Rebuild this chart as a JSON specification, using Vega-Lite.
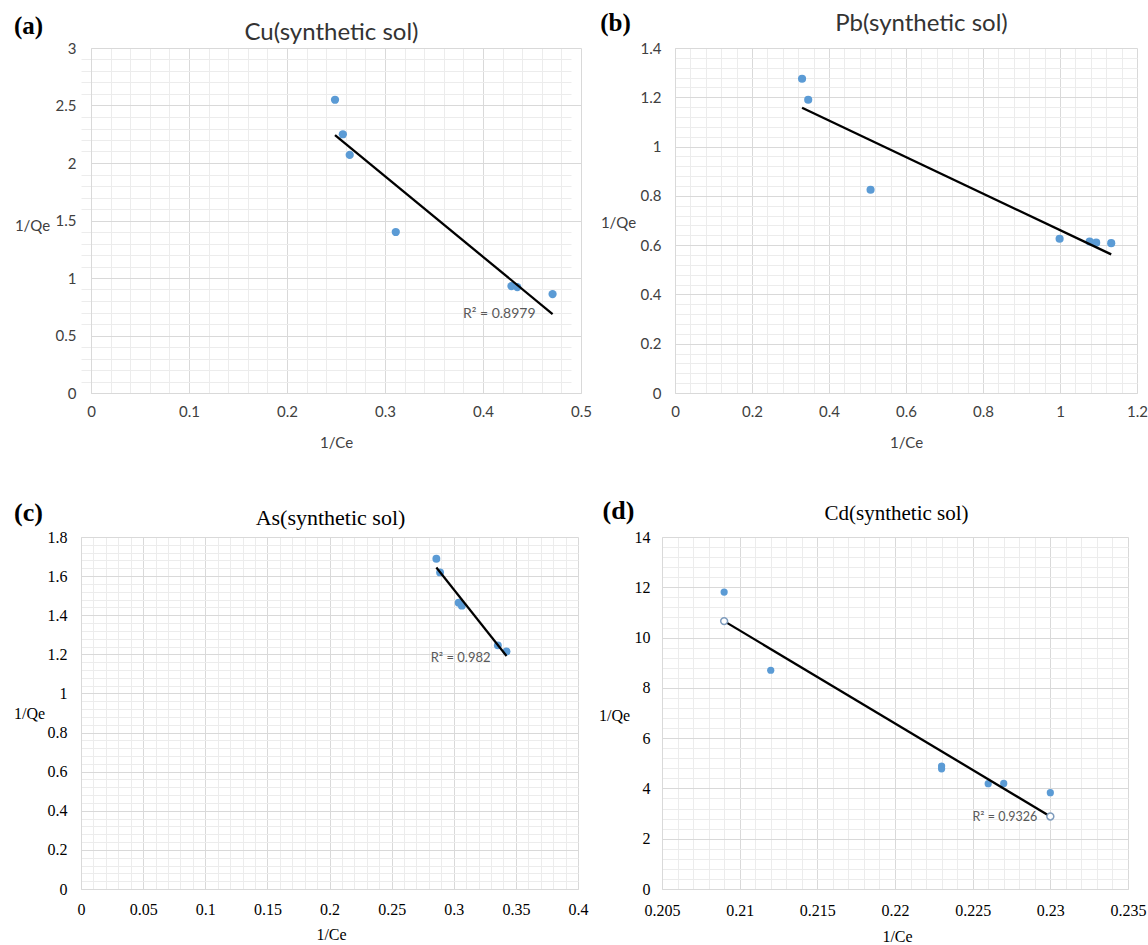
{
  "$schema": "https://vega.github.io/schema/vega-lite/v6.json",
  "background": "white",
  "padding": {"left": 13, "top": 10, "right": 0, "bottom": 0},
  "autosize": {"type": "pad"},
  "spacing": 47,
  "config": {
    "view": {"stroke": null},
    "axis": {"ticks": false, "tickSize": 0, "labelFlush": false, "labelOverlap": false, "titleAngle": 0, "titleAlign": "center", "titleBaseline": "middle"}
  },
  "datasets": {
    "cu": [
      {"invCe": 0.249, "invQe": 2.55},
      {"invCe": 0.257, "invQe": 2.25},
      {"invCe": 0.264, "invQe": 2.07},
      {"invCe": 0.311, "invQe": 1.4},
      {"invCe": 0.429, "invQe": 0.93},
      {"invCe": 0.435, "invQe": 0.92},
      {"invCe": 0.471, "invQe": 0.86}
    ],
    "pb": [
      {"invCe": 0.33, "invQe": 1.275},
      {"invCe": 0.346, "invQe": 1.19},
      {"invCe": 0.508, "invQe": 0.825},
      {"invCe": 0.999, "invQe": 0.626},
      {"invCe": 1.077, "invQe": 0.615},
      {"invCe": 1.094, "invQe": 0.61},
      {"invCe": 1.133, "invQe": 0.608}
    ],
    "as": [
      {"invCe": 0.286, "invQe": 1.689},
      {"invCe": 0.289, "invQe": 1.619},
      {"invCe": 0.304, "invQe": 1.464},
      {"invCe": 0.3065, "invQe": 1.449},
      {"invCe": 0.3355, "invQe": 1.246},
      {"invCe": 0.3425, "invQe": 1.215}
    ],
    "cd": [
      {"invCe": 0.209, "invQe": 11.81},
      {"invCe": 0.212, "invQe": 8.7},
      {"invCe": 0.223, "invQe": 4.89},
      {"invCe": 0.223, "invQe": 4.78},
      {"invCe": 0.226, "invQe": 4.19},
      {"invCe": 0.227, "invQe": 4.2},
      {"invCe": 0.23, "invQe": 3.83}
    ]
  },
  "vconcat": [
    {
      "spacing": 7,
      "hconcat": [
        {
          "width": 500, "height": 345,
          "data": {"name": "cu"},
          "resolve": {"axis": {"x": "independent", "y": "independent"}},
          "layer": [
            {
              "mark": {"type": "circle", "color": "#5B9BD5", "opacity": 1, "size": 68},
              "encoding": {
                "x": {"field": "invCe", "type": "quantitative", "scale": {"domain": [0, 0.5], "range": [10, 500], "nice": false, "zero": false},
                  "axis": {"orient": "top", "values": [0.02,0.04,0.06,0.08,0.12,0.14,0.16,0.18,0.22,0.24,0.26,0.28,0.32,0.34,0.36,0.38,0.42,0.44,0.46,0.48],
                    "grid": true, "gridColor": "#ececec", "labels": false, "domain": false,
                    "title": "Cu(synthetic sol)", "titleX": 250, "titleY": -16, "titleFont": "Lato", "titleFontSize": 24, "titleFontWeight": "normal", "titleColor": "#333333"}},
                "y": {"field": "invQe", "type": "quantitative", "scale": {"domain": [0, 3], "nice": false, "zero": false},
                  "axis": {"orient": "right", "values": [0.1,0.2,0.3,0.4,0.6,0.7,0.8,0.9,1.1,1.2,1.3,1.4,1.6,1.7,1.8,1.9,2.1,2.2,2.3,2.4,2.6,2.7,2.8,2.9],
                    "grid": true, "gridColor": "#ececec", "labels": false, "domain": false,
                    "title": "(a)", "titleX": -553, "titleY": -23, "titleFont": "Liberation Serif", "titleFontSize": 25, "titleFontWeight": "bold", "titleColor": "black"}}
              }
            },
            {
              "transform": [{"regression": "invQe", "on": "invCe"}],
              "mark": {"type": "line", "color": "black", "strokeWidth": 2.3},
              "encoding": {
                "x": {"field": "invCe", "type": "quantitative", "scale": {"domain": [0, 0.5], "range": [10, 500], "nice": false, "zero": false},
                  "axis": {"orient": "bottom", "values": [0,0.1,0.2,0.3,0.4,0.5], "format": "~g",
                    "grid": true, "gridColor": "#d9d9d9", "domainColor": "#d9d9d9",
                    "labelFont": "Lato", "labelFontSize": 15, "labelColor": "#404040", "labelPadding": 11,
                    "title": "1/Ce", "titleX": 255, "titleY": 49, "titleFont": "Lato", "titleFontSize": 15, "titleFontWeight": "normal", "titleColor": "#404040"}},
                "y": {"field": "invQe", "type": "quantitative", "scale": {"domain": [0, 3], "nice": false, "zero": false},
                  "axis": {"orient": "left", "offset": -10, "values": [0,0.5,1,1.5,2,2.5,3], "format": "~g",
                    "grid": true, "gridColor": "#d9d9d9", "domainColor": "#d9d9d9",
                    "labelFont": "Lato", "labelFontSize": 15, "labelColor": "#404040", "labelPadding": 15,
                    "title": "1/Qe", "titleX": -59, "titleY": 177, "titleFont": "Lato", "titleFontSize": 15, "titleFontWeight": "normal", "titleColor": "#404040"}}
              }
            },
            {
              "transform": [
                {"regression": "invQe", "on": "invCe"},
                {"joinaggregate": [{"op": "max", "field": "invCe", "as": "xmax"}]},
                {"filter": "datum.invCe === datum.xmax"}
              ],
              "mark": {"type": "text", "text": "R² = 0.8979", "align": "right", "baseline": "middle", "dx": -17, "font": "Lato", "fontSize": 14, "color": "#595959"},
              "encoding": {
                "x": {"field": "invCe", "type": "quantitative", "scale": {"domain": [0, 0.5], "range": [10, 500], "nice": false, "zero": false}, "axis": null},
                "y": {"field": "invQe", "type": "quantitative", "scale": {"domain": [0, 3], "nice": false, "zero": false}, "axis": null}
              }
            }
          ]
        },
        {
          "width": 462, "height": 345,
          "data": {"name": "pb"},
          "resolve": {"axis": {"x": "independent", "y": "independent"}},
          "layer": [
            {
              "mark": {"type": "circle", "color": "#5B9BD5", "opacity": 1, "size": 66},
              "encoding": {
                "x": {"field": "invCe", "type": "quantitative", "scale": {"domain": [0, 1.2], "nice": false, "zero": false},
                  "axis": {"orient": "top", "values": [0.04,0.08,0.12,0.16,0.24,0.28,0.32,0.36,0.44,0.48,0.52,0.56,0.64,0.68,0.72,0.76,0.84,0.88,0.92,0.96,1.04,1.08,1.12,1.16],
                    "grid": true, "gridColor": "#ececec", "labels": false, "domain": false,
                    "title": "Pb(synthetic sol)", "titleX": 246, "titleY": -25, "titleFont": "Lato", "titleFontSize": 24, "titleFontWeight": "normal", "titleColor": "#333333"}},
                "y": {"field": "invQe", "type": "quantitative", "scale": {"domain": [0, 1.4], "nice": false, "zero": false},
                  "axis": {"orient": "right", "values": [0.04,0.08,0.12,0.16,0.24,0.28,0.32,0.36,0.44,0.48,0.52,0.56,0.64,0.68,0.72,0.76,0.84,0.88,0.92,0.96,1.04,1.08,1.12,1.16,1.24,1.28,1.32,1.36],
                    "grid": true, "gridColor": "#ececec", "labels": false, "domain": false,
                    "title": "(b)", "titleX": -522, "titleY": -26, "titleFont": "Liberation Serif", "titleFontSize": 25, "titleFontWeight": "bold", "titleColor": "black"}}
              }
            },
            {
              "transform": [{"regression": "invQe", "on": "invCe"}],
              "mark": {"type": "line", "color": "black", "strokeWidth": 2.3},
              "encoding": {
                "x": {"field": "invCe", "type": "quantitative", "scale": {"domain": [0, 1.2], "nice": false, "zero": false},
                  "axis": {"orient": "bottom", "values": [0,0.2,0.4,0.6,0.8,1,1.2], "format": "~g",
                    "grid": true, "gridColor": "#d9d9d9", "domainColor": "#d9d9d9",
                    "labelFont": "Lato", "labelFontSize": 15, "labelColor": "#404040", "labelPadding": 11,
                    "title": "1/Ce", "titleX": 231, "titleY": 49, "titleFont": "Lato", "titleFontSize": 15, "titleFontWeight": "normal", "titleColor": "#404040"}},
                "y": {"field": "invQe", "type": "quantitative", "scale": {"domain": [0, 1.4], "nice": false, "zero": false},
                  "axis": {"orient": "left", "values": [0,0.2,0.4,0.6,0.8,1,1.2,1.4], "format": "~g",
                    "grid": true, "gridColor": "#d9d9d9", "domainColor": "#d9d9d9",
                    "labelFont": "Lato", "labelFontSize": 15, "labelColor": "#404040", "labelPadding": 14,
                    "title": "1/Qe", "titleX": -57, "titleY": 174, "titleFont": "Lato", "titleFontSize": 15, "titleFontWeight": "normal", "titleColor": "#404040"}}
              }
            }
          ]
        }
      ]
    },
    {
      "spacing": 10,
      "hconcat": [
        {
          "width": 497, "height": 352,
          "data": {"name": "as"},
          "resolve": {"axis": {"x": "independent", "y": "independent"}},
          "layer": [
            {
              "mark": {"type": "circle", "color": "#5B9BD5", "opacity": 1, "size": 62},
              "encoding": {
                "x": {"field": "invCe", "type": "quantitative", "scale": {"domain": [0, 0.4], "nice": false, "zero": false},
                  "axis": {"orient": "top", "values": [0.01,0.02,0.03,0.04,0.06,0.07,0.08,0.09,0.11,0.12,0.13,0.14,0.16,0.17,0.18,0.19,0.21,0.22,0.23,0.24,0.26,0.27,0.28,0.29,0.31,0.32,0.33,0.34,0.36,0.37,0.38,0.39],
                    "grid": true, "gridColor": "#ececec", "labels": false, "domain": false,
                    "title": "As(synthetic sol)", "titleX": 249, "titleY": -20, "titleFont": "Liberation Serif", "titleFontSize": 22, "titleFontWeight": "normal", "titleColor": "black"}},
                "y": {"field": "invQe", "type": "quantitative", "scale": {"domain": [0, 1.8], "nice": false, "zero": false},
                  "axis": {"orient": "right", "values": [0.04,0.08,0.12,0.16,0.24,0.28,0.32,0.36,0.44,0.48,0.52,0.56,0.64,0.68,0.72,0.76,0.84,0.88,0.92,0.96,1.04,1.08,1.12,1.16,1.24,1.28,1.32,1.36,1.44,1.48,1.52,1.56,1.64,1.68,1.72,1.76],
                    "grid": true, "gridColor": "#ececec", "labels": false, "domain": false,
                    "title": "(c)", "titleX": -550, "titleY": -25, "titleFont": "Liberation Serif", "titleFontSize": 26, "titleFontWeight": "bold", "titleColor": "black"}}
              }
            },
            {
              "transform": [{"regression": "invQe", "on": "invCe"}],
              "mark": {"type": "line", "color": "black", "strokeWidth": 2.2},
              "encoding": {
                "x": {"field": "invCe", "type": "quantitative", "scale": {"domain": [0, 0.4], "nice": false, "zero": false},
                  "axis": {"orient": "bottom", "values": [0,0.05,0.1,0.15,0.2,0.25,0.3,0.35,0.4], "format": "~g",
                    "grid": true, "gridColor": "#d9d9d9", "domainColor": "#d9d9d9",
                    "labelFont": "Liberation Serif", "labelFontSize": 16, "labelColor": "black", "labelPadding": 12,
                    "title": "1/Ce", "titleX": 250, "titleY": 45, "titleFont": "Liberation Serif", "titleFontSize": 16, "titleFontWeight": "normal", "titleColor": "black"}},
                "y": {"field": "invQe", "type": "quantitative", "scale": {"domain": [0, 1.8], "nice": false, "zero": false},
                  "axis": {"orient": "left", "values": [0,0.2,0.4,0.6,0.8,1,1.2,1.4,1.6,1.8], "format": "~g",
                    "grid": true, "gridColor": "#d9d9d9", "domainColor": "#d9d9d9",
                    "labelFont": "Liberation Serif", "labelFontSize": 16, "labelColor": "black", "labelPadding": 14,
                    "title": "1/Qe", "titleX": -52, "titleY": 176, "titleFont": "Liberation Serif", "titleFontSize": 16, "titleFontWeight": "normal", "titleColor": "black"}}
              }
            },
            {
              "transform": [
                {"regression": "invQe", "on": "invCe"},
                {"joinaggregate": [{"op": "max", "field": "invCe", "as": "xmax"}]},
                {"filter": "datum.invCe === datum.xmax"}
              ],
              "mark": {"type": "text", "text": "R² = 0.982", "align": "right", "baseline": "middle", "dx": -16, "dy": 2, "font": "Lato", "fontSize": 13, "color": "#595959"},
              "encoding": {
                "x": {"field": "invCe", "type": "quantitative", "scale": {"domain": [0, 0.4], "nice": false, "zero": false}, "axis": null},
                "y": {"field": "invQe", "type": "quantitative", "scale": {"domain": [0, 1.8], "nice": false, "zero": false}, "axis": null}
              }
            }
          ]
        },
        {
          "width": 466, "height": 352,
          "data": {"name": "cd"},
          "resolve": {"axis": {"x": "independent", "y": "independent"}},
          "layer": [
            {
              "mark": {"type": "circle", "color": "#5B9BD5", "opacity": 1, "size": 52},
              "encoding": {
                "x": {"field": "invCe", "type": "quantitative", "scale": {"domain": [0.205, 0.235], "nice": false, "zero": false},
                  "axis": {"orient": "top", "values": [0.206,0.207,0.208,0.209,0.211,0.212,0.213,0.214,0.216,0.217,0.218,0.219,0.221,0.222,0.223,0.224,0.226,0.227,0.228,0.229,0.231,0.232,0.233,0.234],
                    "grid": true, "gridColor": "#ececec", "labels": false, "domain": false,
                    "title": "Cd(synthetic sol)", "titleX": 234, "titleY": -24, "titleFont": "Liberation Serif", "titleFontSize": 21, "titleFontWeight": "normal", "titleColor": "black"}},
                "y": {"field": "invQe", "type": "quantitative", "scale": {"domain": [0, 14], "nice": false, "zero": false},
                  "axis": {"orient": "right", "values": [0.4,0.8,1.2,1.6,2.4,2.8,3.2,3.6,4.4,4.8,5.2,5.6,6.4,6.8,7.2,7.6,8.4,8.8,9.2,9.6,10.4,10.8,11.2,11.6,12.4,12.8,13.2,13.6],
                    "grid": true, "gridColor": "#ececec", "labels": false, "domain": false,
                    "title": "(d)", "titleX": -510, "titleY": -27, "titleFont": "Liberation Serif", "titleFontSize": 26, "titleFontWeight": "bold", "titleColor": "black"}}
              }
            },
            {
              "transform": [{"regression": "invQe", "on": "invCe"}],
              "mark": {"type": "line", "color": "black", "strokeWidth": 2.3},
              "encoding": {
                "x": {"field": "invCe", "type": "quantitative", "scale": {"domain": [0.205, 0.235], "nice": false, "zero": false},
                  "axis": {"orient": "bottom", "values": [0.205,0.21,0.215,0.22,0.225,0.23,0.235], "format": "~g",
                    "grid": true, "gridColor": "#d9d9d9", "domainColor": "#d9d9d9",
                    "labelFont": "Liberation Serif", "labelFontSize": 16, "labelColor": "black", "labelPadding": 13,
                    "title": "1/Ce", "titleX": 235, "titleY": 47, "titleFont": "Liberation Serif", "titleFontSize": 16, "titleFontWeight": "normal", "titleColor": "black"}},
                "y": {"field": "invQe", "type": "quantitative", "scale": {"domain": [0, 14], "nice": false, "zero": false},
                  "axis": {"orient": "left", "values": [0,2,4,6,8,10,12,14], "format": "~g",
                    "grid": true, "gridColor": "#d9d9d9", "domainColor": "#d9d9d9",
                    "labelFont": "Liberation Serif", "labelFontSize": 16, "labelColor": "black", "labelPadding": 12,
                    "title": "1/Qe", "titleX": -48, "titleY": 178, "titleFont": "Liberation Serif", "titleFontSize": 16, "titleFontWeight": "normal", "titleColor": "black"}}
              }
            },
            {
              "transform": [
                {"regression": "invQe", "on": "invCe"},
                {"joinaggregate": [{"op": "min", "field": "invCe", "as": "xmin"}, {"op": "max", "field": "invCe", "as": "xmax"}]},
                {"filter": "datum.invCe === datum.xmin || datum.invCe === datum.xmax"}
              ],
              "mark": {"type": "point", "shape": "circle", "filled": true, "fill": "white", "stroke": "#7f9cbd", "strokeWidth": 1.5, "size": 48, "opacity": 1},
              "encoding": {
                "x": {"field": "invCe", "type": "quantitative", "scale": {"domain": [0.205, 0.235], "nice": false, "zero": false}, "axis": null},
                "y": {"field": "invQe", "type": "quantitative", "scale": {"domain": [0, 14], "nice": false, "zero": false}, "axis": null}
              }
            },
            {
              "transform": [
                {"regression": "invQe", "on": "invCe"},
                {"joinaggregate": [{"op": "max", "field": "invCe", "as": "xmax"}]},
                {"filter": "datum.invCe === datum.xmax"}
              ],
              "mark": {"type": "text", "text": "R² = 0.9326", "align": "right", "baseline": "middle", "dx": -13, "dy": 1, "font": "Lato", "fontSize": 12.5, "color": "#595959"},
              "encoding": {
                "x": {"field": "invCe", "type": "quantitative", "scale": {"domain": [0.205, 0.235], "nice": false, "zero": false}, "axis": null},
                "y": {"field": "invQe", "type": "quantitative", "scale": {"domain": [0, 14], "nice": false, "zero": false}, "axis": null}
              }
            }
          ]
        }
      ]
    }
  ]
}
